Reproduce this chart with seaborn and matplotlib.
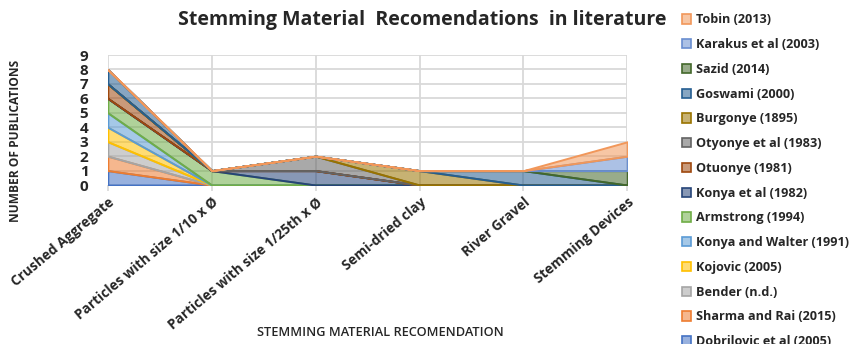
import seaborn as sns
import matplotlib.pyplot as plt
import matplotlib.patches as mpatches
from matplotlib.colors import to_rgba

categories = ['Crushed Aggregate', 'Particles with size 1/10 x Ø', 'Particles with size 1/25th x Ø',
              'Semi-dried clay', 'River Gravel', 'Stemming Devices']

# stacking order, bottom first
sources = ['Dobrilovic et al (2005)', 'Sharma and Rai (2015)', 'Bender (n.d.)', 'Kojovic (2005)',
           'Konya and Walter (1991)', 'Armstrong (1994)', 'Konya et al (1982)', 'Otuonye (1981)',
           'Otyonye et al (1983)', 'Burgonye (1895)', 'Goswami (2000)', 'Sazid (2014)',
           'Karakus et al (2003)', 'Tobin (2013)']

dobrilovic = [1, 0, 0, 0, 0, 0]
sharma = [1, 0, 0, 0, 0, 0]
bender = [1, 0, 0, 0, 0, 0]
kojovic = [1, 0, 0, 0, 0, 0]
konya_walter = [1, 0, 0, 0, 0, 0]
armstrong = [1, 1, 0, 0, 0, 0]
konya_1982 = [0, 0, 1, 0, 0, 0]
otuonye = [1, 0, 0, 0, 0, 0]
otyonye = [0, 0, 1, 0, 0, 0]
burgonye = [0, 0, 0, 1, 0, 0]
goswami = [1, 0, 0, 0, 1, 0]
sazid = [0, 0, 0, 0, 0, 1]
karakus = [0, 0, 0, 0, 0, 1]
tobin = [0, 0, 0, 0, 0, 1]

values = [dobrilovic, sharma, bender, kojovic, konya_walter, armstrong, konya_1982, otuonye,
          otyonye, burgonye, goswami, sazid, karakus, tobin]

colors = ['#4472C4', '#ED7D31', '#A5A5A5', '#FFC000', '#5B9BD5', '#70AD47', '#264478',
          '#9E480E', '#636363', '#997300', '#255E91', '#43682B', '#698ED0', '#F1975A']

sns.set_theme(style='whitegrid')
plt.rcParams['font.family'] = ['Open Sans', 'DejaVu Sans']

fig = plt.figure(figsize=(8.49, 3.44), dpi=100)
ax = fig.add_axes([0.127, 0.462, 0.612, 0.378])

x = list(range(len(categories)))
base = [0] * len(categories)
for vals, col in zip(values, colors):
    top = [b + v for b, v in zip(base, vals)]
    ax.fill_between(x, base, top, facecolor=to_rgba(col, 0.55), edgecolor=col, linewidth=1.4)
    base = top

ax.set_xlim(0, 5)
ax.set_ylim(0, 9)
ax.set_yticks(range(10))
ax.set_xticks(x)
ax.set_xticklabels(categories, rotation=40, ha='right', rotation_mode='anchor',
                   fontsize=9.8, fontweight='bold', color='#262626')
ax.tick_params(axis='y', labelsize=11, labelcolor='#262626', pad=8)
for t in ax.get_yticklabels():
    t.set_fontweight('bold')
ax.tick_params(axis='x', length=4, color='#D9D9D9', pad=3, bottom=True)
ax.grid(True, color='#D9D9D9', linewidth=1.3)
for s in ax.spines.values():
    s.set_visible(False)
ax.set_axisbelow(True)

ax.set_ylabel('NUMBER OF PUBLICATIONS', fontsize=8.6, fontweight='bold', color='#262626')
ax.yaxis.set_label_coords(-0.165, 0.34)

fig.text(0.448, 0.032, 'STEMMING MATERIAL RECOMENDATION', ha='center', va='center',
         fontsize=9.2, fontweight='semibold', color='#262626')

fig.text(0.497, 0.942, 'Stemming Material  Recomendations  in literature', ha='center', va='center',
         fontsize=14, fontweight='bold', color='#262626')

handles = [mpatches.Patch(facecolor=to_rgba(c, 0.55), edgecolor=c, linewidth=1.2, label=l)
           for l, c in zip(sources, colors)][::-1]
leg = fig.legend(handles=handles, loc='upper left', bbox_to_anchor=(0.797, 0.976), frameon=False,
                 fontsize=9.1, handlelength=0.75, handleheight=0.75, handletextpad=0.35,
                 labelspacing=0.93, borderaxespad=0)
for t in leg.get_texts():
    t.set_fontweight('bold')
    t.set_color('#262626')

fig.savefig('out.png', dpi=100)
